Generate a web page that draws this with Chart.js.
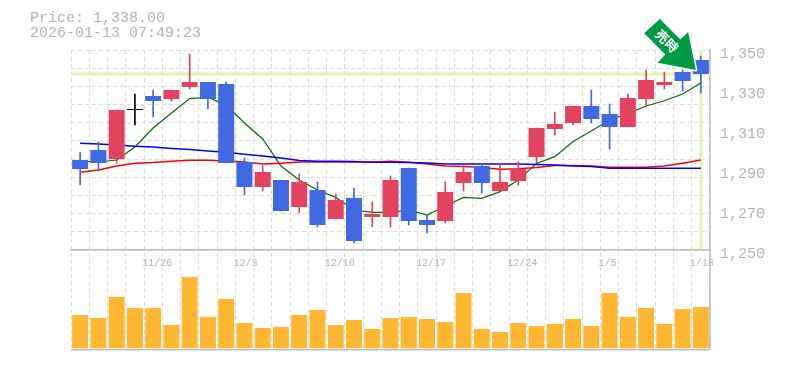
<!DOCTYPE html>
<html>
<head>
<meta charset="utf-8">
<title>Price chart</title>
<script src="https://cdn.jsdelivr.net/npm/chart.js@4"></script>
<style>
  html, body { margin: 0; padding: 0; background: #fff; }
  canvas { display: block; }
</style>
</head>
<body>
<canvas id="priceChart" width="785" height="370"></canvas>
<script>
// Data
const dates = ['11/19','11/20','11/21','11/25','11/26','11/27','11/28','12/1','12/2','12/3','12/4','12/5','12/8','12/9','12/10','12/11','12/12','12/15','12/16','12/17','12/18','12/19','12/22','12/23','12/24','12/25','12/26','12/29','12/30','1/5','1/6','1/7','1/8','1/9','1/13'];
const dateLabels = ['11/26','12/3','12/10','12/17','12/24','1/5','1/13'];
const priceTicks = [1250, 1270, 1290, 1310, 1330, 1350];

const opens  = [1295,1300,1295.5,1320,1327,1325.5,1331.5,1334,1333,1294,1281.5,1285,1271.5,1280,1265.5,1276,1266.5,1266.5,1291,1265,1264.5,1283.5,1292,1279.5,1284.5,1296.5,1310.5,1313.5,1322,1318,1311.5,1325.5,1332.5,1339,1345];
const closes = [1290.5,1293.5,1320,1320,1324.5,1330,1334,1325.5,1293.5,1281.5,1289,1269.5,1284,1262.5,1275,1254.5,1268,1285,1264.5,1262.5,1279,1289,1283.5,1284,1290.5,1311,1313,1322,1315.5,1311.5,1326,1335,1334,1334.5,1338];
const highs  = [1299,1304,1320,1328,1330,1330,1348,1334,1334,1296,1292,1285,1288,1284,1278,1281,1274,1287,1291,1267.5,1284,1292,1293,1293,1294,1311,1319,1322,1330,1323,1328,1340,1339,1340,1347];
const lows   = [1282.5,1289.5,1293.5,1312.5,1316.5,1324.5,1330.5,1320.5,1293.5,1277.5,1279.5,1269.5,1268.5,1261.5,1265.5,1253.5,1261.5,1261.5,1262.5,1258.5,1263.5,1279.5,1278.5,1279.5,1282.5,1293.5,1307.5,1312.5,1313.5,1300.5,1311.5,1321.5,1330.5,1329.5,1328.5];

const maShort = [1294.5,1294,1295,1301.5,1311,1318.5,1325.7,1326.3,1322.5,1313.5,1305.5,1292,1285,1280,1276.3,1270,1268.8,1268.8,1270,1267.5,1272,1276.3,1275.8,1279.2,1285,1293.3,1296.7,1304.2,1309.5,1315,1318.3,1322,1324.6,1328,1333.5];
const maMid   = [1303.4,1303,1302.5,1301.9,1301.5,1300.8,1300.3,1299.5,1298.9,1297.9,1297,1296,1294.8,1294.4,1294.4,1294.3,1293.9,1293.9,1293.8,1293.5,1293,1293,1293,1293,1293,1292.8,1292.5,1292,1291.8,1290.9,1290.9,1290.9,1290.9,1290.9,1290.9];
const maLong  = [1288.9,1290,1292,1293.4,1293.7,1294.4,1294.9,1294.9,1294.5,1294,1293,1293.4,1294,1294,1294,1294,1294,1294.4,1293.9,1293,1292,1291.7,1291.2,1290.4,1290.6,1291.2,1292.2,1292.2,1292,1291.4,1291.4,1291.4,1292,1293.4,1295];

const volumes = [33.3,30.3,51.3,40.3,40.3,23.3,71.3,31.3,49.3,25.3,20.3,21.3,33.3,38.3,23.3,28.3,19.3,30.3,31.3,29.3,26.3,55.3,19.3,16.3,25.3,22.3,24.3,29.3,22.3,55.3,31.3,40.3,24.3,39.3,41.3];

const lastPrice = 1338;
const titleLines = ['Price: 1,338.00', '2026-01-13 07:49:23'];
const arrowText = '売時';

// Colors
const upColor = '#e2435f';
const downColor = '#4169e1';
const flatColor = '#000000';
const gridColor = '#dddddd';
const frameColor = '#c0c0c0';
const textColor = '#b4b4b4';
const highlightColor = '#e3f4ad';

const candleColor = (i) => {
    if (closes[i] > opens[i]) return upColor;
    if (closes[i] < opens[i]) return downColor;
    return flatColor;
};
const colors = dates.map((d, i) => candleColor(i));
const volMin = -1.7;
const volMax = 98.3;

// Highlight lines and grid go under the marks
const highlightPlugin = {
    id: 'highlight',
    beforeDatasetsDraw(chart) {
        const { ctx, chartArea, scales } = chart;
        const y = scales.y.getPixelForValue(lastPrice);
        const x = scales.x.getPixelForValue(dates.length - 1);
        ctx.save();
        ctx.strokeStyle = highlightColor;
        ctx.lineWidth = 3;
        ctx.beginPath();
        ctx.moveTo(chartArea.left, y);
        ctx.lineTo(chartArea.right, y);
        ctx.moveTo(x, chartArea.top);
        ctx.lineTo(x, scales.y.bottom - 1);
        ctx.stroke();
        ctx.restore();
    }
};

// Title text and the signal arrow
const overlayPlugin = {
    id: 'overlay',
    afterDraw(chart) {
        const { ctx, scales } = chart;
        ctx.save();
        ctx.font = '15px "Liberation Mono"';
        ctx.fillStyle = textColor;
        ctx.textBaseline = 'middle';
        ctx.fillText(titleLines[0], 30, 18);
        ctx.fillText(titleLines[1], 30, 33);

        const tipX = scales.x.getPixelForValue(dates.length - 1) - 5;
        const tipY = scales.y.getPixelForValue(lastPrice) - 4;
        ctx.translate(tipX, tipY);
        ctx.beginPath();
        ctx.moveTo(0, 0);
        ctx.lineTo(-7.7, -38);
        ctx.lineTo(-15.5, -30.5);
        ctx.lineTo(-36, -51);
        ctx.lineTo(-51.7, -36.7);
        ctx.lineTo(-30.5, -15.5);
        ctx.lineTo(-38.3, -7.3);
        ctx.closePath();
        ctx.strokeStyle = '#ffffff';
        ctx.lineWidth = 3;
        ctx.lineJoin = 'round';
        ctx.stroke();
        ctx.fillStyle = '#009944';
        ctx.fill();

        ctx.translate(-29, -29);
        ctx.rotate(Math.PI / 4);
        ctx.font = 'bold 13px "Noto Sans CJK JP"';
        ctx.fillStyle = '#ffffff';
        ctx.textAlign = 'center';
        ctx.fillText(arrowText, 0, 0);
        ctx.restore();
    }
};

new Chart(document.getElementById('priceChart'), {
    type: 'bar',
    plugins: [highlightPlugin, overlayPlugin],
    data: {
        labels: dates,
        datasets: [
            { label: 'Open/Close', data: dates.map((d, i) => [opens[i], closes[i]]), backgroundColor: colors, barPercentage: 0.876, categoryPercentage: 1, minBarLength: 1, grouped: false, order: 1, yAxisID: 'y' },
            { label: 'High/Low', data: dates.map((d, i) => [lows[i], highs[i]]), backgroundColor: colors, barThickness: 1, grouped: false, order: 2, yAxisID: 'y' },
            { type: 'line', label: 'MA short', data: maShort, borderColor: '#007000', borderWidth: 1.2, pointRadius: 0, tension: 0, order: 5, yAxisID: 'y' },
            { type: 'line', label: 'MA mid', data: maMid, borderColor: '#0000ff', borderWidth: 1.5, pointRadius: 0, tension: 0, order: 3, yAxisID: 'y' },
            { type: 'line', label: 'MA long', data: maLong, borderColor: '#ff0000', borderWidth: 1.5, pointRadius: 0, tension: 0, order: 4, yAxisID: 'y' },
            { label: 'Volume', data: volumes, backgroundColor: '#ffb733', barPercentage: 0.876, categoryPercentage: 1, grouped: false, order: 6, yAxisID: 'yVol' }
        ]
    },
    options: {
        responsive: false,
        animation: false,
        layout: { padding: { left: 71, right: 0, top: 50, bottom: 20 } },
        plugins: { legend: { display: false }, tooltip: { enabled: false } },
        scales: {
            x: {
                position: { yVol: volMax },
                offset: true,
                grid: { color: gridColor, offset: true, drawTicks: false },
                border: { color: frameColor, width: 1.5, dash: [4, 3] },
                ticks: {
                    autoSkip: false,
                    maxRotation: 0,
                    align: 'start',
                    labelOffset: -11,
                    padding: 7,
                    color: textColor,
                    font: { family: '"Liberation Mono"', size: 10 },
                    callback(value) {
                        const label = this.getLabelForValue(value);
                        return dateLabels.includes(label) ? label : '';
                    }
                }
            },
            y: {
                position: 'right',
                stack: 'panels',
                stackWeight: 2,
                min: 1250,
                max: 1350,
                afterFit(scale) { scale.width = 75; },
                afterBuildTicks(scale) {
                    // grid has 11 divisions, labels sit every 20
                    const gridTicks = [];
                    for (let i = 0; i <= 11; i++) gridTicks.push({ value: 1250 + i * 100 / 11 });
                    const labelTicks = priceTicks.slice(1, -1).map(v => ({ value: v }));
                    scale.ticks = gridTicks.concat(labelTicks).sort((a, b) => a.value - b.value);
                },
                grid: {
                    drawTicks: false,
                    color(ctx) {
                        const v = ctx.tick.value;
                        return Number.isInteger(v) && v !== 1250 && v !== 1350 ? 'transparent' : gridColor;
                    }
                },
                border: { color: frameColor, width: 1.5, dash: [4, 3] },
                ticks: {
                    autoSkip: false,
                    padding: 10,
                    labelOffset: 4,
                    color: textColor,
                    font: { family: '"Liberation Mono"', size: 15 },
                    callback(value) {
                        return priceTicks.includes(value) ? value.toLocaleString('en-US') : '';
                    }
                }
            },
            yVol: {
                position: 'right',
                stack: 'panels',
                stackWeight: 1,
                min: volMin,
                max: volMax,
                afterFit(scale) { scale.width = 75; },
                afterBuildTicks(scale) { scale.ticks = [{ value: volMin }]; },
                grid: { drawTicks: false, color: frameColor, lineWidth: 1.5 },
                border: { color: frameColor, width: 1.5 },
                ticks: { display: false }
            }
        }
    }
});
</script>
</body>
</html>
